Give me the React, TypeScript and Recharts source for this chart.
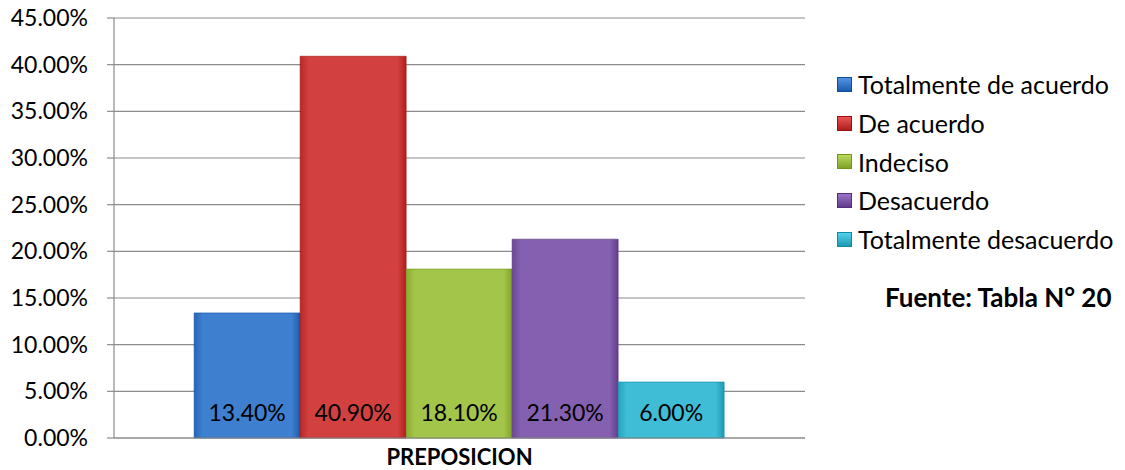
import React from 'react'
import { BarChart, Bar, XAxis, YAxis, CartesianGrid, LabelList } from 'recharts'

const categories = ['PREPOSICION']
const seriesNames = ['Totalmente de acuerdo', 'De acuerdo', 'Indeciso', 'Desacuerdo', 'Totalmente desacuerdo']
const seriesValues = [0.134, 0.409, 0.181, 0.213, 0.06]
const seriesColors = ['#3f7fd0', '#d2403f', '#a3c64a', '#8660b0', '#3fbcd6']
const yTicks = [0, 0.05, 0.1, 0.15, 0.2, 0.25, 0.3, 0.35, 0.4, 0.45]
const sourceNote = 'Fuente: Tabla N° 20'

const FONT = 'Lato, "Open Sans", sans-serif'

const data = categories.map((name) => {
  const row: Record<string, string | number> = { name }
  seriesNames.forEach((s, i) => {
    row[`s${i}`] = seriesValues[i]
  })
  return row
})

const pct = (v: any) => `${(Number(v) * 100).toFixed(2)}%`

function shade(hex: string, amt: number) {
  const n = parseInt(hex.slice(1), 16)
  const f = (c: number) => Math.max(0, Math.min(255, Math.round(c + amt)))
  const r = f((n >> 16) & 255)
  const g = f((n >> 8) & 255)
  const b = f(n & 255)
  return `rgb(${r},${g},${b})`
}

export default function App() {
  return (
    <div style={{ position: 'absolute', left: 0, top: 0, width: 1125, height: 470, background: '#fff', fontFamily: FONT }}>
      <BarChart
        width={1125}
        height={470}
        data={data}
        margin={{ top: 18, right: 320, bottom: 0, left: 0 }}
        barCategoryGap="11.6%"
        barGap={0}
      >
        <defs>
          {seriesColors.map((c, i) => (
            <linearGradient key={i} id={`g${i}`} x1="0" y1="0" x2="1" y2="0">
              <stop offset="0%" stopColor={shade(c, -25)} />
              <stop offset="8%" stopColor={c} />
              <stop offset="92%" stopColor={c} />
              <stop offset="100%" stopColor={shade(c, -35)} />
            </linearGradient>
          ))}
        </defs>
        <CartesianGrid vertical={false} stroke="#8c8c8c" strokeWidth={1.2} />
        <XAxis
          dataKey="name"
          height={32}
          tickLine={false}
          tickSize={0}
          tickMargin={11}
          axisLine={{ stroke: '#8c8c8c', strokeWidth: 1.2 }}
          tick={{ fill: '#000', fontSize: 22, fontWeight: 700, fontFamily: FONT }}
        />
        <YAxis
          width={114}
          domain={[0, 0.45]}
          ticks={yTicks}
          interval={0}
          tickFormatter={pct}
          tickSize={7}
          tickMargin={19}
          tickLine={{ stroke: '#8c8c8c', strokeWidth: 1.2 }}
          axisLine={{ stroke: '#8c8c8c', strokeWidth: 1.2 }}
          tick={{ fill: '#000', fontSize: 23, fontFamily: FONT }}
        />
        {seriesNames.map((s, i) => (
          <Bar key={s} dataKey={`s${i}`} name={s} fill={`url(#g${i})`} stroke={shade(seriesColors[i], -50)} strokeWidth={0.6} isAnimationActive={false}>
            <LabelList
              dataKey={`s${i}`}
              position="insideBottom"
              offset={17}
              formatter={pct}
              fill="#000"
              fontSize={23}
              fontFamily={FONT}
            />
          </Bar>
        ))}
      </BarChart>
      <div style={{ position: 'absolute', left: 837, top: 65, fontSize: 25, lineHeight: '38.8px', color: '#000' }}>
        {seriesNames.map((s, i) => (
          <div key={s} style={{ display: 'flex', alignItems: 'center', height: 38.8 }}>
            <span
              style={{
                display: 'inline-block',
                width: 15,
                height: 15,
                marginRight: 6,
                background: `linear-gradient(to bottom, ${shade(seriesColors[i], 25)}, ${seriesColors[i]} 40%, ${shade(seriesColors[i], -40)})`,
                boxShadow: `inset 0 0 0 1px ${shade(seriesColors[i], -50)}`,
              }}
            />
            <span>{s}</span>
          </div>
        ))}
      </div>
      <div style={{ position: 'absolute', left: 885, top: 281, fontSize: 26, fontWeight: 700, color: '#000' }}>{sourceNote}</div>
    </div>
  )
}
